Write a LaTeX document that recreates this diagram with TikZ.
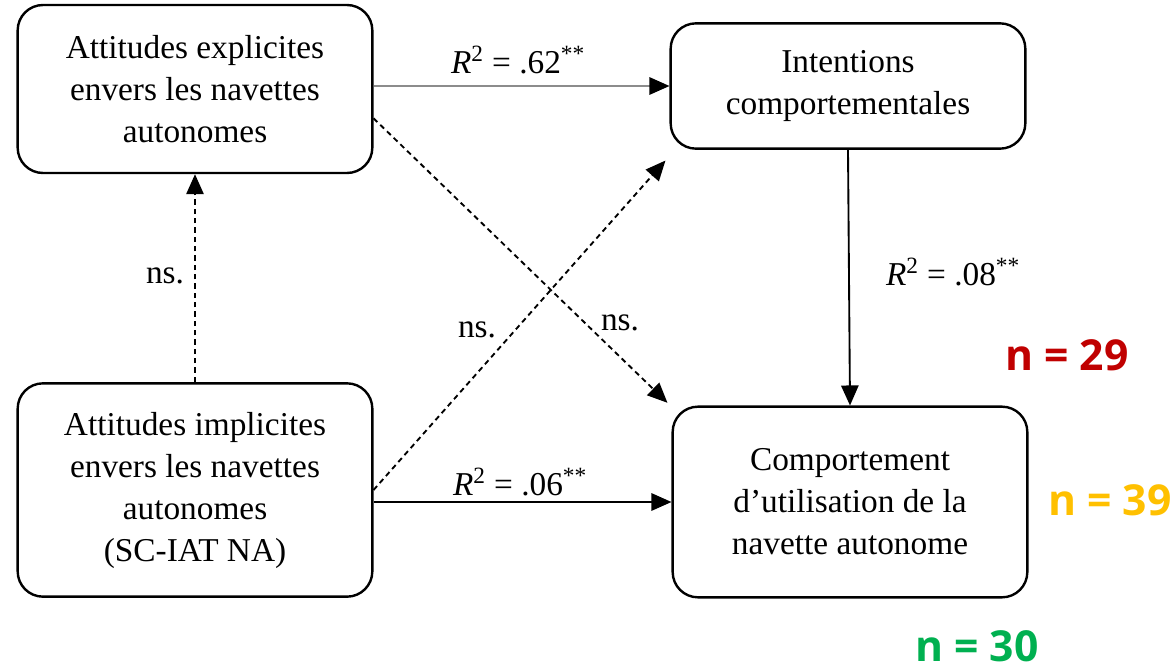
\documentclass[tikz,border=0pt]{standalone}
\usepackage{fontspec}
\setmainfont{Liberation Serif}
\newfontfamily\nfont{Open Sans}
\usetikzlibrary{arrows.meta}

\definecolor{nred}{RGB}{192,0,0}
\definecolor{norange}{RGB}{255,192,0}
\definecolor{ngreen}{RGB}{0,176,80}

\tikzset{
  varbox/.style={draw, line width=1.8pt, rounded corners=19pt, minimum width=266pt, align=center, font=\fontsize{25}{31.5}\selectfont},
  link/.style={line width=1.4pt, -{Triangle[length=15pt,width=13pt,color=black]}},
  nslink/.style={link, dash pattern=on 4pt off 3pt},
  lbl/.style={inner sep=0.75pt, font=\fontsize{25}{31}\selectfont},
  nlbl/.style={inner sep=0pt, font=\nfont\bfseries\fontsize{32}{36}\selectfont}
}

\begin{document}
\begin{tikzpicture}[x=0.75pt,y=0.75pt,yscale=-1]
\useasboundingbox (0,0) rectangle (1175,671);

% Boxes
\node [varbox, minimum height=126pt] (expl) at (195,89) {Attitudes explicites\\envers les navettes\\autonomes};
\node [varbox, minimum height=94pt] (intent) at (848,86) {Intentions\\comportementales};
\node [varbox, minimum height=160pt] (impl) at (195,490) {Attitudes implicites\\envers les navettes\\autonomes\\(SC-IAT NA)};
\node [varbox, minimum height=143pt] (behav) at (850,502) {Comportement\\d'utilisation de la\\navette autonome};

% Straight Lines
\draw [link, draw=black!45] (expl.east |- intent.west) -- (intent.west);
\draw [link] (intent.south) -- (behav.north);
\draw [link] (impl.east |- behav.west) -- (behav.west);
% Dashed Lines
\draw [nslink] (impl.north) -- (expl.south);
\draw [nslink] ([yshift=22pt]expl.east) -- ([xshift=-3pt,yshift=-2pt]behav.north west);
\draw [nslink] (impl.east) -- ([xshift=-3pt,yshift=8pt]intent.south west);

% Text Node
\node [lbl] (r62) at (518,60) {\textit{R}\textsuperscript{2} = .62\textsuperscript{**}};
% Text Node
\node [lbl] (r08) at (953,272) {\textit{R}\textsuperscript{2} = .08\textsuperscript{**}};
% Text Node
\node [lbl] (r06) at (520,482) {\textit{R}\textsuperscript{2} = .06\textsuperscript{**}};
% Text Node
\node [lbl] (nsa) at (165,276) {ns.};
% Text Node
\node [lbl] (nsb) at (477,330) {ns.};
% Text Node
\node [lbl] (nsc) at (620,323) {ns.};

% Sample sizes
\node [nlbl, text=nred] (n29) at (1067,355) {n = 29};
\node [nlbl, text=norange] (n39) at (1110,500) {n = 39};
\node [nlbl, text=ngreen] (n30) at (977,646) {n = 30};

\end{tikzpicture}
\end{document}
